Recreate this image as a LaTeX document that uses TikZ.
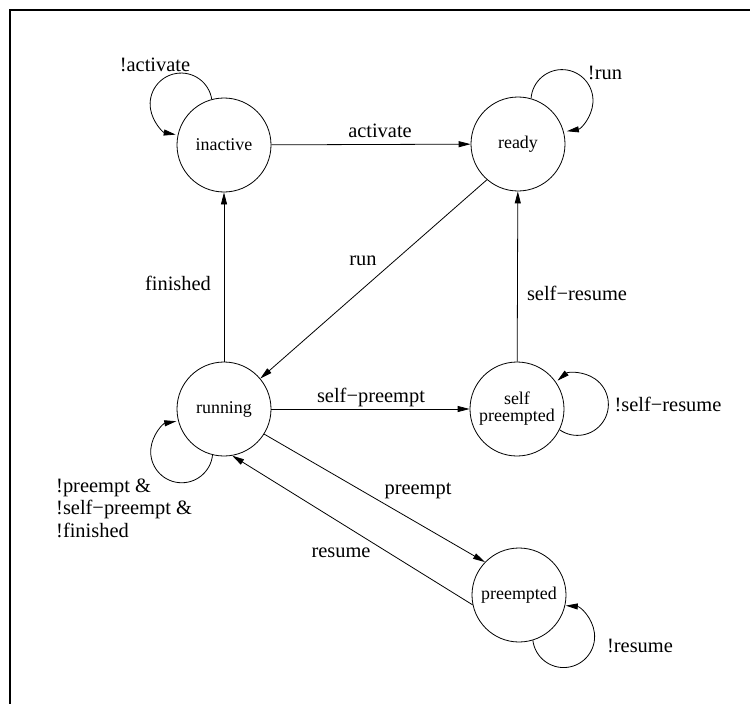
\documentclass[tikz,border=0pt]{standalone}
\usepackage{fontspec}
\setmainfont{Liberation Serif}
\usetikzlibrary{arrows.meta}
\begin{document}
\begin{tikzpicture}[x=1bp,y=-1bp,
  state/.style={circle,draw,line width=0.8bp,minimum size=94bp,inner sep=0pt,
    font=\fontsize{18}{17}\selectfont,align=center},
  lbl/.style={inner sep=0pt,font=\fontsize{20.5}{22.5}\selectfont},
  tr/.style={line width=0.8bp,-{Triangle[length=12bp,width=6bp]}},
]
\useasboundingbox (0,0) rectangle (750,704);
\draw[line width=2bp] (10,704) -- (10,10) -- (750,10);

\node[state] (inactive) at (224,145) {inactive};
\node[state] (ready) at (518,144) {ready};
\node[state] (running) at (224,409) {running};
\node[state] (selfp) at (517,409) {self\\preempted};
\node[state] (pre) at (519,595) {preempted};

\draw[tr] (inactive) -- (ready);
\draw[tr] (running) -- (inactive);
\draw[tr] (ready.229) -- (running.40);
\draw[tr] (running) -- (selfp);
\draw[tr] (selfp) -- (ready);
\draw[tr] (running.-32) -- (pre.136);
\draw[tr] (pre.192) -- (running.-80);

\draw[tr] (inactive.105) arc[start angle=-9,end angle=-260,radius=31];
\draw[tr] (ready.74) arc[start angle=-176,end angle=81,radius=31];
\draw[tr] (running.256) arc[start angle=6,end angle=260,radius=31];
\draw[tr] (selfp.-26) arc[start angle=125,end angle=-130,radius=31];
\draw[tr] (pre.-73) arc[start angle=-187,end angle=-446,radius=31];

\node[lbl] (l1) at (155,65) {!activate};
\node[lbl] (l2) at (380,131) {activate};
\node[lbl] (l3) at (605,73) {!run};
\node[lbl] (l4) at (363,261) {run};
\node[lbl] (l5) at (178,283) {finished};
\node[lbl] (l6) at (577,293) {self−resume};
\node[lbl] (l7) at (371,397) {self−preempt};
\node[lbl] (l8) at (668,404) {!self−resume};
\node[lbl] (l9) at (418,491) {preempt};
\node[lbl] (l10) at (341,553) {resume};
\node[lbl] (l11) at (640,646) {!resume};
\node[lbl,align=left,anchor=west] (l12) at (56,508) {!preempt \&\\!self−preempt \&\\!finished};
\end{tikzpicture}
\end{document}
